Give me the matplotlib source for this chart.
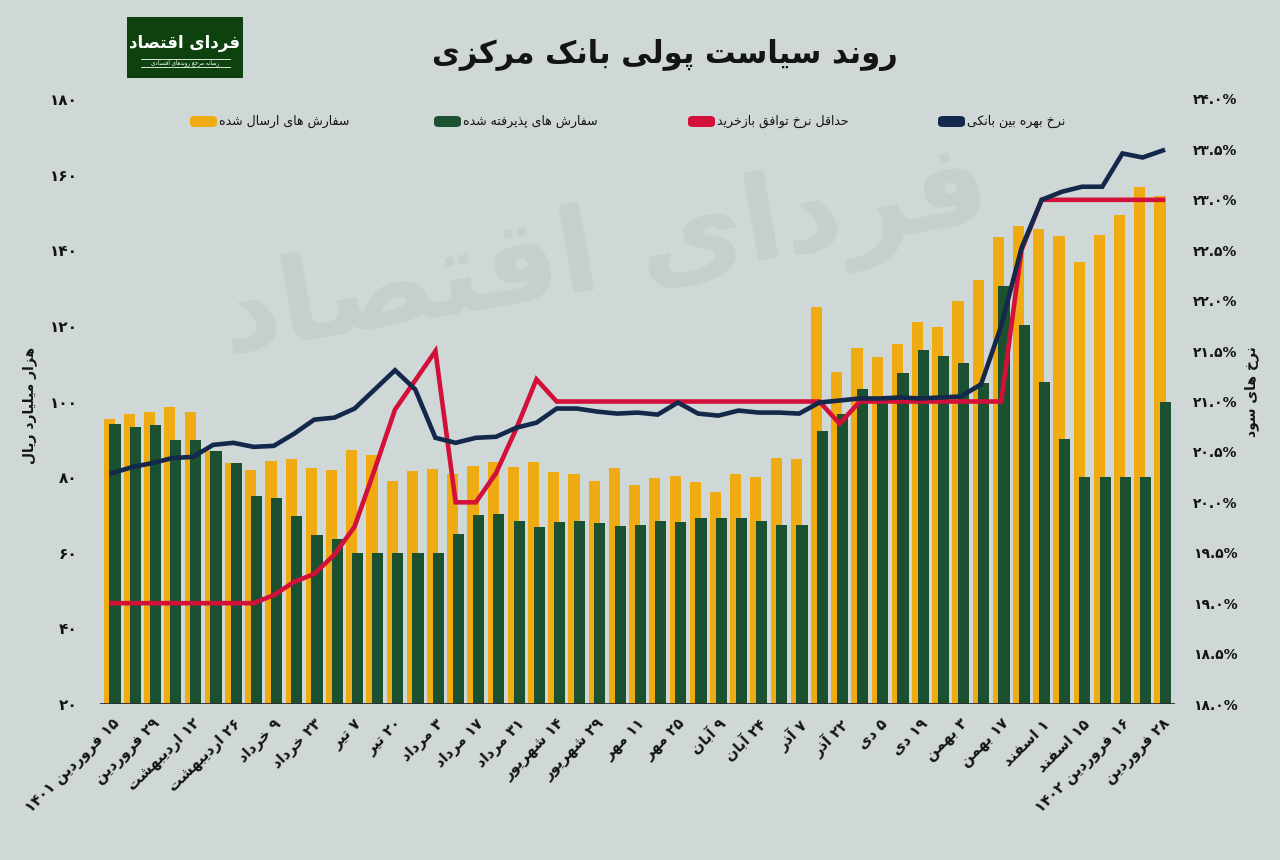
import matplotlib
matplotlib.use("Agg")
import matplotlib.pyplot as plt
from matplotlib.patches import FancyBboxPatch, Rectangle
from matplotlib.lines import Line2D
import numpy as np

# weekly values, 15 Farvardin 1401 .. 28 Farvardin 1402
submitted = [95.5, 96.6, 97.2, 98.6, 97.2, 87, 83.8, 82, 84.2, 84.7, 82.5, 81.9, 87.2,
             85.9, 79.1, 81.5, 82.2, 80.7, 82.9, 84, 82.7, 84, 81.4, 80.8, 79.1, 82.3,
             77.9, 79.8, 80.4, 78.6, 76, 80.7, 80, 85.1, 84.7, 125, 107.9, 114.1, 111.9,
             115.2, 121, 119.7, 126.7, 132.1, 143.6, 146.4, 145.7, 143.9, 136.9, 144.1,
             149.4, 156.8, 154.4]
accepted = [94, 93.3, 93.9, 89.9, 89.9, 86.9, 83.7, 74.9, 74.6, 69.8, 64.7, 63.7, 60,
            60, 60, 60, 60, 64.9, 69.9, 70.2, 68.4, 66.8, 68.2, 68.4, 68, 67.2,
            67.3, 68.4, 68.2, 69.3, 69.3, 69.3, 68.4, 67.4, 67.4, 92.1, 96.6, 103.4, 101.2,
            107.6, 113.6, 112.1, 110.3, 105, 130.5, 120.3, 105.2, 90.1, 80, 80, 80, 80, 100]
interbank = [20.29, 20.35, 20.39, 20.44, 20.45, 20.57, 20.59, 20.55, 20.56, 20.68, 20.82,
             20.84, 20.93, 21.12, 21.31, 21.12, 20.64, 20.59, 20.64, 20.65, 20.74, 20.79,
             20.93, 20.93, 20.90, 20.88, 20.89, 20.87, 20.99, 20.88, 20.86, 20.91, 20.89,
             20.89, 20.88, 20.99, 21.01, 21.03, 21.03, 21.04, 21.03, 21.04, 21.05, 21.17,
             21.75, 22.52, 23.0, 23.08, 23.13, 23.13, 23.46, 23.42, 23.49]
repo_min = [19.0, 19.0, 19.0, 19.0, 19.0, 19.0, 19.0, 19.0, 19.08, 19.21, 19.29, 19.48,
            19.76, 20.33, 20.92, 21.21, 21.5, 20.0, 20.0, 20.29, 20.73, 21.22, 21.0, 21.0,
            21.0, 21.0, 21.0, 21.0, 21.0, 21.0, 21.0, 21.0, 21.0, 21.0, 21.0, 21.0, 20.78,
            21.0, 21.0, 21.0, 21.0, 21.0, 21.0, 21.0, 21.0, 22.5, 23.0, 23.0, 23.0, 23.0,
            23.0, 23.0, 23.0]
date_labels = ["۱۵ فروردین ۱۴۰۱", "۲۹ فروردین", "۱۲ اردیبهشت", "۲۶ اردیبهشت", "۹ خرداد",
               "۲۳ خرداد", "۷ تیر", "۲۰ تیر", "۳ مرداد", "۱۷ مرداد", "۳۱ مرداد",
               "۱۴ شهریور", "۲۹ شهریور", "۱۱ مهر", "۲۵ مهر", "۹ آبان", "۲۴ آبان",
               "۷ آذر", "۲۲ آذر", "۵ دی", "۱۹ دی", "۳ بهمن", "۱۷ بهمن", "۱ اسفند",
               "۱۵ اسفند", "۱۶ فروردین ۱۴۰۲", "۲۸ فروردین"]
series_names = ["سفارش های ارسال شده", "سفارش های پذیرفته شده",
                "حداقل نرخ توافق بازخرید", "نرخ بهره بین بانکی"]

# matplotlib has no arabic shaping, so pick presentation forms by hand
FORMS = {
    "ا": ("\uFE8D", "\uFE8E", None, None),
    "آ": ("\uFE81", "\uFE82", None, None),
    "ب": ("\uFE8F", "\uFE90", "\uFE91", "\uFE92"),
    "پ": ("\uFB56", "\uFB57", "\uFB58", "\uFB59"),
    "ت": ("\uFE95", "\uFE96", "\uFE97", "\uFE98"),
    "ج": ("\uFE9D", "\uFE9E", "\uFE9F", "\uFEA0"),
    "ح": ("\uFEA1", "\uFEA2", "\uFEA3", "\uFEA4"),
    "خ": ("\uFEA5", "\uFEA6", "\uFEA7", "\uFEA8"),
    "د": ("\uFEA9", "\uFEAA", None, None),
    "ذ": ("\uFEAB", "\uFEAC", None, None),
    "ر": ("\uFEAD", "\uFEAE", None, None),
    "ز": ("\uFEAF", "\uFEB0", None, None),
    "س": ("\uFEB1", "\uFEB2", "\uFEB3", "\uFEB4"),
    "ش": ("\uFEB5", "\uFEB6", "\uFEB7", "\uFEB8"),
    "ص": ("\uFEB9", "\uFEBA", "\uFEBB", "\uFEBC"),
    "ع": ("\uFEC9", "\uFECA", "\uFECB", "\uFECC"),
    "ف": ("\uFED1", "\uFED2", "\uFED3", "\uFED4"),
    "ق": ("\uFED5", "\uFED6", "\uFED7", "\uFED8"),
    "ک": ("\uFB8E", "\uFB8F", "\uFB90", "\uFB91"),
    "ل": ("\uFEDD", "\uFEDE", "\uFEDF", "\uFEE0"),
    "م": ("\uFEE1", "\uFEE2", "\uFEE3", "\uFEE4"),
    "ن": ("\uFEE5", "\uFEE6", "\uFEE7", "\uFEE8"),
    "ه": ("\uFEE9", "\uFEEA", "\uFEEB", "\uFEEC"),
    "و": ("\uFEED", "\uFEEE", None, None),
    "ی": ("\uFBFC", "\uFBFD", "\uFBFE", "\uFBFF"),
}
LAM_ALEF = {"ا": ("\uFEFB", "\uFEFC"), "آ": ("\uFEF5", "\uFEF6")}
DIGITS = "۰۱۲۳۴۵۶۷۸۹0123456789.%"


def dual(c):
    return c in FORMS and FORMS[c][2] is not None


def shape(text):
    out = []
    i = 0
    while i < len(text):
        ch = text[i]
        prev = text[i - 1] if i > 0 else ""
        nxt = text[i + 1] if i + 1 < len(text) else ""
        if ch == "ل" and nxt in LAM_ALEF:
            iso, fin = LAM_ALEF[nxt]
            out.append(fin if dual(prev) else iso)
            i += 2
            continue
        if ch not in FORMS:
            out.append(ch)
            i += 1
            continue
        iso, fin, ini, med = FORMS[ch]
        jp = dual(prev)
        jn = dual(ch) and nxt in FORMS
        if jp and jn:
            out.append(med)
        elif jp:
            out.append(fin)
        elif jn:
            out.append(ini)
        else:
            out.append(iso)
        i += 1
    return "".join(out)


def fa(text):
    tokens = []
    for ch in shape(text):
        if ch in DIGITS and tokens and tokens[-1][0] in DIGITS:
            tokens[-1] += ch
        else:
            tokens.append(ch)
    return "".join(reversed(tokens))


def fa_num(s):
    return s.translate(str.maketrans("0123456789", "۰۱۲۳۴۵۶۷۸۹"))


BG = "#CFD8D7"
YELLOW = "#F0AA12"
GREEN = "#1B5130"
NAVY = "#13284A"
RED = "#D2103A"
INK = "#141414"

plt.rcParams["font.family"] = ["DejaVu Sans"]

fig = plt.figure(figsize=(12.8, 8.6), dpi=100, facecolor=BG)
ax = fig.add_axes([100 / 1280, 156 / 860, 1075 / 1280, 605 / 860])
ax.set_facecolor(BG)
ax2 = ax.twinx()

x = np.arange(len(submitted))
ax.bar(x - 0.14, submitted, width=0.55, color=YELLOW, zorder=2)
ax.bar(x + 0.14, accepted, width=0.55, color=GREEN, zorder=3)
ax.set_ylim(20, 180)
ax.set_xlim(-0.6, len(x) - 0.4)

ax2.plot(x, repo_min, color=RED, lw=3.3, solid_joinstyle="miter", zorder=4)
ax2.plot(x, interbank, color=NAVY, lw=3.3, solid_joinstyle="miter", zorder=5)
ax2.set_ylim(18, 24)

# watermark
ax.text(0.47, 0.74, fa("فردای اقتصاد"), transform=ax.transAxes, fontsize=84,
        fontweight="bold", color="#C5CFCC", rotation=10, ha="center", va="center", zorder=1)

left_ticks = list(range(20, 181, 20))
ax.set_yticks(left_ticks)
ax.set_yticklabels([fa_num(str(v)) for v in left_ticks], fontsize=11, fontweight="bold", color=INK)
right_ticks = np.arange(18, 24.01, 0.5)
ax2.set_yticks(right_ticks)
ax2.set_yticklabels([fa_num(f"{v:.1f}") + "%" for v in right_ticks], fontsize=10, fontweight="bold", color=INK)
ax.tick_params(axis="y", length=0, pad=16)
ax2.tick_params(axis="y", length=0, pad=13)

ax.set_xticks(x[::2])
ax.set_xticklabels([fa(s) for s in date_labels], rotation=45, ha="right", va="top",
                   rotation_mode="anchor", fontsize=10.5, fontweight="bold", color=INK)
ax.tick_params(axis="x", length=0, pad=9)

for a in (ax, ax2):
    for side in ("top", "left", "right", "bottom"):
        a.spines[side].set_visible(False)
ax.axhline(20, color="#2b2b2b", lw=2, zorder=6)

fig.text(30 / 1280, 1 - 405 / 860, fa("هزار میلیارد ریال"), rotation=90, ha="center", va="center",
         fontsize=10, fontweight="bold", color=INK)
fig.text(1252 / 1280, 1 - 392 / 860, fa("نرخ های سود"), rotation=90, ha="center", va="center",
         fontsize=10, fontweight="bold", color=INK)

fig.text(665 / 1280, 1 - 55 / 860, fa("روند سیاست پولی بانک مرکزی"), ha="center", va="center",
         fontsize=22, fontweight="bold", color=INK)

# legend, drawn by hand: swatch then label
legend_x = [190, 434, 688, 938]
colors = [YELLOW, GREEN, RED, NAVY]
for lx, c, name in zip(legend_x, colors, series_names):
    fig.patches.append(FancyBboxPatch((lx / 1280, 1 - 127 / 860), 27 / 1280, 11 / 860,
                                      boxstyle="round,pad=0,rounding_size=0.004",
                                      transform=fig.transFigure, facecolor=c, edgecolor="none"))
    fig.text((lx + 29) / 1280, 1 - 121 / 860, fa(name), ha="left", va="center",
             fontsize=9, color=INK)

# logo
fig.patches.append(Rectangle((127 / 1280, 1 - 78 / 860), 116 / 1280, 61 / 860,
                             transform=fig.transFigure, facecolor="#0D420E", edgecolor="none"))
fig.text(185 / 1280, 1 - 43 / 860, fa("فردای اقتصاد"), ha="center", va="center",
         fontsize=12, fontweight="bold", color="white")
for ly in (59, 67):
    fig.lines.append(Line2D([141 / 1280, 230 / 1280], [1 - ly / 860, 1 - ly / 860],
                            transform=fig.transFigure, color="white", lw=0.6))
fig.text(185 / 1280, 1 - 63 / 860, fa("رسانه مرجع روندهای اقتصادی"), ha="center", va="center",
         fontsize=4, color="white")

fig.savefig("out.png", dpi=100, facecolor=BG)
